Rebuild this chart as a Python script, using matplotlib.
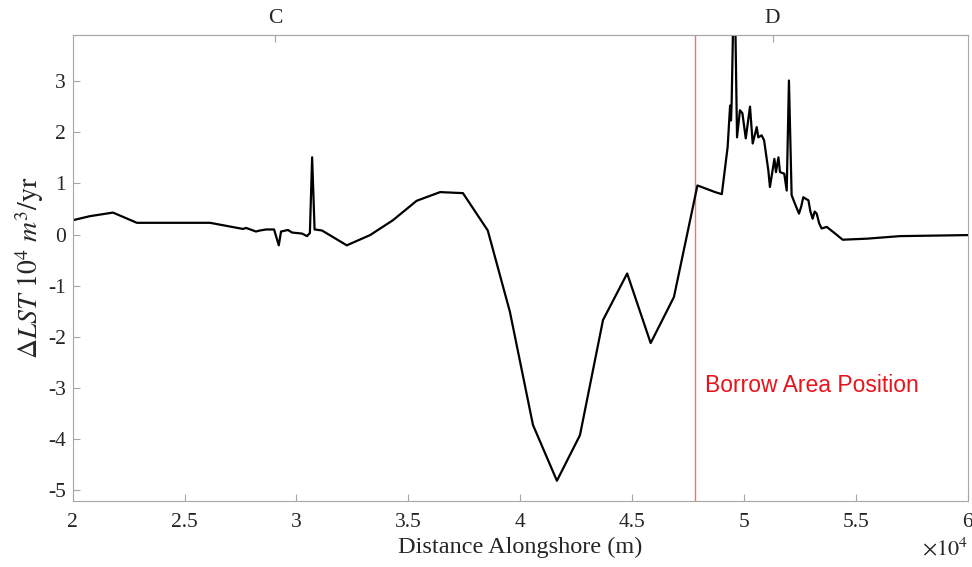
import matplotlib
matplotlib.use("Agg")
import matplotlib.pyplot as plt
from matplotlib.ticker import FuncFormatter

# Change in longshore sediment transport along the coast
distance_m = [
    20000, 20770, 21800, 22870, 26140, 27610, 27750, 28190, 28370, 28640,
    29000, 29210, 29310, 29620, 29800, 30250, 30470, 30600, 30700, 30810,
    31140, 32250, 33290, 34310, 35370, 36420, 37440, 38550, 39540, 40570,
    41640, 42670, 43700, 44780, 45830, 46870, 47920, 48710, 49010, 49270,
    49380, 49420, 49450, 49570, 49690, 49820, 49930, 50080, 50270, 50390,
    50570, 50640, 50790, 50900, 51090, 51160, 51360, 51430, 51540, 51610,
    51800, 51910, 52010, 52130, 52280, 52460, 52560, 52650, 52760, 52880,
    52970, 53070, 53160, 53250, 53360, 53470, 53700, 53990, 54410, 55490,
    56970, 60000,
]
delta_lst = [
    0.28, 0.36, 0.43, 0.23, 0.23, 0.11, 0.13, 0.06, 0.08, 0.10,
    0.10, -0.21, 0.06, 0.09, 0.04, 0.02, -0.03, 0.03, 1.51, 0.10,
    0.08, -0.21, -0.01, 0.28, 0.66, 0.83, 0.81, 0.08, -1.51, -3.72,
    -4.81, -3.92, -1.67, -0.76, -2.12, -1.22, 0.96, 0.83, 0.79, 1.71,
    2.52, 2.23, 2.59, 5.40, 1.90, 2.43, 2.37, 1.88, 2.50, 1.78,
    2.10, 1.90, 1.94, 1.84, 1.25, 0.93, 1.48, 1.22, 1.51, 1.22,
    1.19, 0.86, 3.01, 0.77, 0.60, 0.41, 0.55, 0.73, 0.70, 0.67,
    0.45, 0.31, 0.45, 0.41, 0.22, 0.12, 0.15, 0.05, -0.10, -0.08,
    -0.03, -0.01,
]

borrow_area_x = 47800
profile_names = ["C", "D"]
profile_x = [29040, 51280]

x_ticks = [20000, 25000, 30000, 35000, 40000, 45000, 50000, 55000, 60000]
y_ticks = [-5, -4, -3, -2, -1, 0, 1, 2, 3]

plt.rcParams["font.family"] = ["Liberation Serif", "DejaVu Serif"]
plt.rcParams["mathtext.fontset"] = "stix"
plt.rcParams["axes.unicode_minus"] = False

spine_col = "#a6a6a6"
text_col = "#262626"

fig = plt.figure(figsize=(9.72, 5.67), dpi=100)
ax = fig.add_axes([0.0748, 0.1169, 0.9956 - 0.0748, 0.9383 - 0.1169])

ax.axvline(borrow_area_x, color="#ff6a6a", lw=1.0, zorder=1)
ax.plot(distance_m, delta_lst, color="black", lw=1.6, zorder=2)
ax.text(48260, -2.94, "Borrow Area Position", color="#e8141c",
        fontsize=16.5, family=["Liberation Sans", "DejaVu Sans"],
        ha="left", va="center")

ax.set_xlim(20000, 60000)
ax.set_ylim(-5.2, 3.9)
ax.set_xticks(x_ticks)
ax.set_yticks(y_ticks)
ax.xaxis.set_major_formatter(FuncFormatter(lambda v, p: "%g" % (v / 1e4)))
ax.yaxis.set_major_formatter(FuncFormatter(lambda v, p: "%g" % v))

for s in ax.spines.values():
    s.set_color(spine_col)
    s.set_linewidth(0.8)

ax.tick_params(axis="both", direction="in", length=5, width=0.8,
               color=spine_col, labelcolor=text_col, labelsize=15.5)
ax.tick_params(axis="x", pad=9)
ax.tick_params(axis="y", pad=5)

ax.set_xlabel("Distance Alongshore (m)", fontsize=17.5, color=text_col,
              labelpad=3)
ax.set_ylabel(r"$\Delta LST\ 10^4\ m^3/\mathrm{yr}$", fontsize=20,
              color=text_col, labelpad=1)

ax.text(1.0, -0.105, r"$\times 10^4$", transform=ax.transAxes,
        ha="right", va="center", fontsize=16, color=text_col)

top = ax.secondary_xaxis("top")
top.set_xticks(profile_x)
top.set_xticklabels(profile_names)
top.tick_params(direction="in", length=5, width=0.8, color=spine_col,
                labelcolor=text_col, labelsize=15.5, pad=5)
top.spines["top"].set_color(spine_col)

fig.savefig("out.png", dpi=100)
